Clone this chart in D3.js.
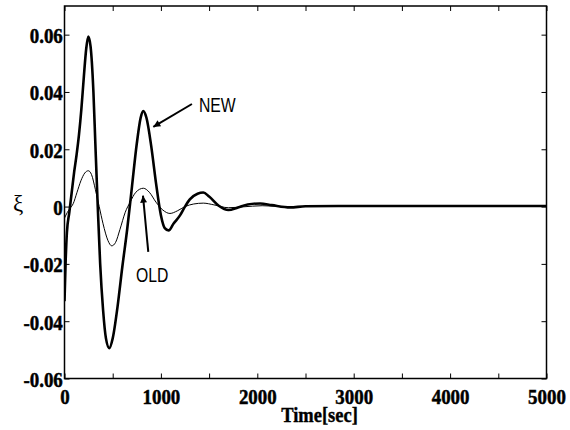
<!DOCTYPE html>
<html><head><meta charset="utf-8">
<script src="https://cdn.jsdelivr.net/npm/d3@7"></script>
<style>
html,body{margin:0;padding:0;background:#fff;}
svg{display:block;}
</style></head>
<body>
<svg id="chart" width="570" height="430"></svg>
<script>
// ---- data ----
const newTime = [0,12,25,50,75,100,125,150,175,200,225,247,270,300,320,345,370,400,430,465,500,550,600,650,700,750,790,817,850,900,950,1000,1040,1080,1130,1200,1250,1300,1380,1440,1500,1600,1700,1800,1900,2030,2150,2340,2500,3000,3500,4000,4500,5000];
const newValue = [-0.033,-0.019,-0.009,-0.002,0.005,0.012,0.018,0.025,0.034,0.045,0.055,0.0593,0.056,0.040,0.022,0.000,-0.020,-0.036,-0.046,-0.0494,-0.046,-0.035,-0.021,-0.008,0.007,0.022,0.031,0.0333,0.031,0.021,0.008,-0.003,-0.0075,-0.0083,-0.006,-0.003,0.000,0.0025,0.0045,0.0049,0.0035,0.0003,-0.0012,-0.0003,0.0007,0.0011,0.0005,-0.0003,0.0001,0.0002,0.0002,0.0002,0.0002,0.0002];
const oldTime = [0,30,60,90,130,170,210,247,280,320,360,400,450,490,530,575,630,680,740,818,880,950,1020,1094,1170,1250,1340,1440,1550,1700,1850,2050,2300,2600,3000,4000,5000];
const oldValue = [-0.004,-0.002,-0.0005,0.001,0.005,0.009,0.0117,0.0125,0.0112,0.006,0.000,-0.006,-0.0118,-0.0137,-0.0125,-0.008,-0.002,0.0015,0.005,0.0064,0.005,0.0015,-0.0012,-0.0024,-0.0015,0.000,0.0009,0.0012,0.0006,-0.0004,-0.0001,0.0003,0.0000,0.0001,0.0002,0.0002,0.0002];
const xTicks = [0,500,1000,1500,2000,2500,3000,3500,4000,4500,5000];
const xLabels = [0,1000,2000,3000,4000,5000];
const yTicks = [-0.06,-0.04,-0.02,0,0.02,0.04,0.06];
const xDomain = [0,5000];
const yDomain = [-0.06,0.07];
const xTitle = "Time[sec]";
const yTitle = "ξ";
// annotations (data coordinates): label, label anchor, arrow tail, arrow tip
const notes = [
  {text:"NEW", lx:1395, ly:0.033, tx:1322, ty:0.0358, hx:921, hy:0.0278},
  {text:"OLD", lx:742, ly:-0.0263, tx:869, ty:-0.0158, hx:814, hy:0.0038}
];

// ---- layout ----
const L = 64.5, R = 546.5, T = 6, B = 378.5;
const svg = d3.select("#chart");
const x = d3.scaleLinear().domain(xDomain).range([L, R]);
const y = d3.scaleLinear().domain(yDomain).range([B, T]);

const tickFont = "'Liberation Serif','Times New Roman',serif";

svg.append("clipPath").attr("id","clip").append("rect")
  .attr("x",L).attr("y",T).attr("width",R-L).attr("height",B-T);

// lines
const line = (xs, ys) => d3.line().x((d,i)=>x(xs[i])).y((d,i)=>y(ys[i])).curve(d3.curveMonotoneX)(xs);
svg.append("path").attr("d", line(oldTime, oldValue)).attr("clip-path","url(#clip)")
  .attr("fill","none").attr("stroke","#000").attr("stroke-width",1);
svg.append("path").attr("d", line(newTime, newValue)).attr("clip-path","url(#clip)")
  .attr("fill","none").attr("stroke","#000").attr("stroke-width",2.6).attr("stroke-linejoin","round");

// axes
const styleLabel = s => s.attr("font-family",tickFont).attr("font-weight","bold").attr("font-size",22)
  .attr("fill","#000").attr("stroke","#000").attr("stroke-width",0.5).attr("transform","scale(0.86,1)");

const gx = svg.append("g").attr("transform",`translate(0,${B})`)
  .call(d3.axisBottom(x).tickValues(xTicks).tickSize(-5)
    .tickFormat(d => xLabels.includes(d) ? String(d) : ""));
gx.select(".domain").remove();
gx.selectAll("text").attr("y",26).attr("dy",null).call(styleLabel);
gx.selectAll("line").attr("stroke","#000").attr("stroke-width",1);

const gt = svg.append("g").attr("transform",`translate(0,${T})`)
  .call(d3.axisTop(x).tickValues(xTicks).tickSize(-5).tickFormat(""));
gt.select(".domain").remove();
gt.selectAll("line").attr("stroke","#000");

const gy = svg.append("g").attr("transform",`translate(${L},0)`)
  .call(d3.axisLeft(y).tickValues(yTicks).tickSize(-5)
    .tickFormat(d => d === 0 ? "0" : d.toFixed(2)));
gy.select(".domain").remove();
gy.selectAll("text").attr("x",-2).attr("dy","8px").attr("text-anchor","end").call(styleLabel);
gy.selectAll("line").attr("stroke","#000");

const gr = svg.append("g").attr("transform",`translate(${R},0)`)
  .call(d3.axisRight(y).tickValues(yTicks).tickSize(-5).tickFormat(""));
gr.select(".domain").remove();
gr.selectAll("line").attr("stroke","#000");

// frame
svg.append("rect").attr("x",L).attr("y",T).attr("width",R-L).attr("height",B-T)
  .attr("fill","none").attr("stroke","#000").attr("stroke-width",1.5);

// titles
svg.append("text").attr("transform",`translate(${(L+R)/2 + 14},422) scale(0.88,1)`)
  .attr("text-anchor","middle").attr("font-family",tickFont).attr("font-weight","bold")
  .attr("font-size",21).attr("fill","#000").attr("stroke","#000").attr("stroke-width",0.4).text(xTitle);
svg.append("text").attr("transform",`translate(18,211)`)
  .attr("text-anchor","middle").attr("font-family",tickFont)
  .attr("font-size",23).attr("fill","#000").text(yTitle);

// annotations
svg.append("defs").append("marker").attr("id","ah").attr("viewBox","0 0 10 10")
  .attr("refX",10).attr("refY",5).attr("markerWidth",9).attr("markerHeight",7)
  .attr("markerUnits","userSpaceOnUse").attr("orient","auto")
  .append("path").attr("d","M0,0 L10,5 L0,10 Z").attr("fill","#000");
notes.forEach(n => {
  svg.append("line").attr("x1",x(n.tx)).attr("y1",y(n.ty)).attr("x2",x(n.hx)).attr("y2",y(n.hy))
    .attr("stroke","#000").attr("stroke-width",2).attr("marker-end","url(#ah)");
  svg.append("text").attr("transform",`translate(${x(n.lx)},${y(n.ly)}) scale(0.75,1)`)
    .attr("font-family","'Liberation Sans',Arial,sans-serif").attr("font-size",21)
    .attr("fill","#000").text(n.text);
});
</script>
</body></html>
